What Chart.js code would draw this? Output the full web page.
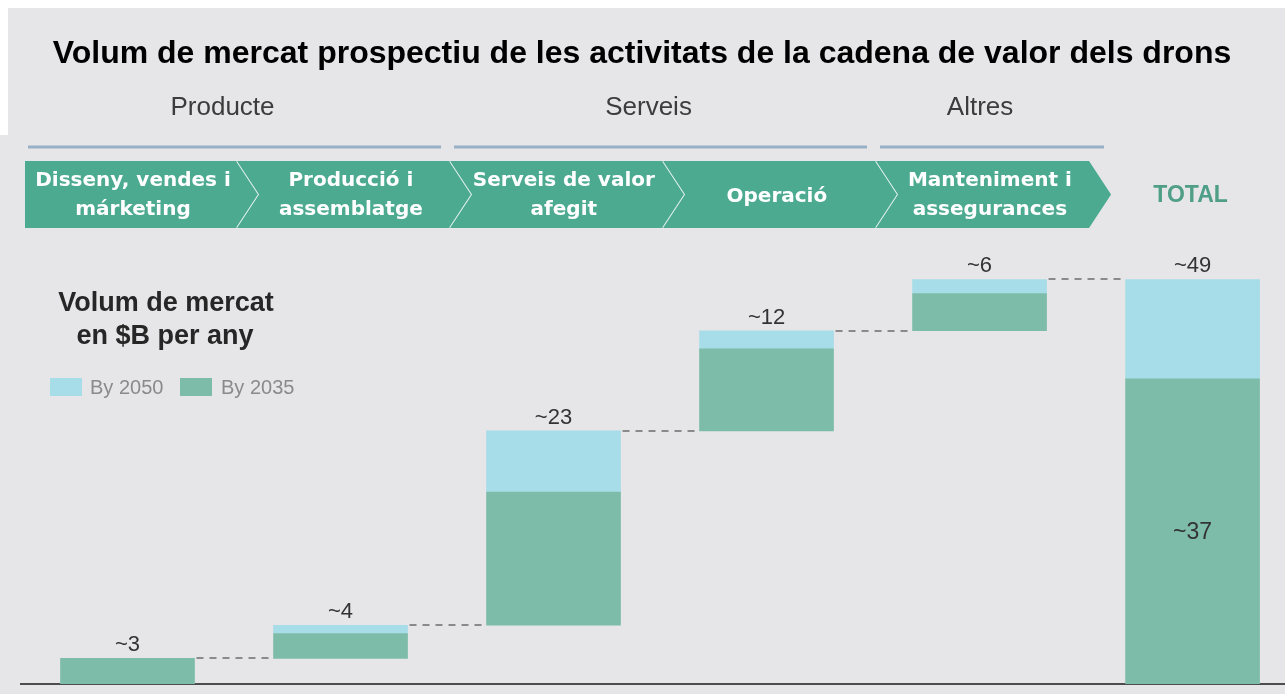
<!DOCTYPE html>
<html lang="ca">
<head>
<meta charset="UTF-8">
<title>Volum de mercat prospectiu - drons</title>
<script src="https://cdn.jsdelivr.net/npm/chart.js@4.4.1/dist/chart.umd.min.js"></script>
<style>
    * { margin: 0; padding: 0; box-sizing: border-box; }
    body { background: #fff; width: 1285px; height: 694px; overflow: hidden; }
    #wrap { position: relative; width: 1285px; height: 694px; }
</style>
</head>
<body>
<div id="wrap"><canvas id="chart" width="1285" height="694"></canvas></div>
<script>
// --- data ---
const titleText = 'Volum de mercat prospectiu de les activitats de la cadena de valor dels drons';
const categories = ['Disseny, vendes i márketing', 'Producció i assemblatge', 'Serveis de valor afegit', 'Operació', 'Manteniment i assegurances', 'TOTAL'];
const chevronLines = [['Disseny, vendes i', 'márketing'], ['Producció i', 'assemblatge'], ['Serveis de valor', 'afegit'], ['Operació'], ['Manteniment i', 'assegurances']];
const groupNames = ['Producte', 'Serveis', 'Altres'];
const groupFirst = [0, 2, 4];
const groupLast = [1, 3, 4];
const by2035 = [3.1, 3.0, 16.1, 9.9, 4.5, 36.9];   // $B per year
const by2050 = [0, 1.0, 7.4, 2.2, 1.7, 12.0];      // extra on top of 2035
const valueLabels = ['~3', '~4', '~23', '~12', '~6', '~49'];
const total2035Label = '~37';
const axisTitle = ['Volum de mercat', 'en $B per any'];
const seriesNames = ['By 2050', 'By 2035'];

const GREEN = '#7dbca8';
const BLUE = '#a7dce9';
const CHEVRON = '#4caa91';
const BG = '#e6e6e8';
const SANS = "'Liberation Sans', Arial, sans-serif";
const DEJAVU = "'DejaVu Sans', sans-serif";

// waterfall bases: each step starts where the previous one ended, total starts at 0
const lastIdx = categories.length - 1;
const bases = [];
let run = 0;
categories.forEach((c, i) => {
    bases.push(i === lastIdx ? 0 : run);
    run += by2035[i] + by2050[i];
});

const greenData = categories.map((c, i) => ({ x: i, y: [bases[i], bases[i] + by2035[i]] }));
const blueData = categories.map((c, i) => ({ x: i, y: [bases[i] + by2035[i], bases[i] + by2035[i] + by2050[i]] }));

const decor = {
    id: 'decor',
    beforeDraw(chart) {
        const ctx = chart.ctx;
        ctx.save();
        ctx.fillStyle = '#ffffff';
        ctx.fillRect(0, 0, chart.width, chart.height);
        ctx.fillStyle = BG;
        ctx.fillRect(8, 8, chart.width - 8, chart.height - 8);
        ctx.fillRect(0, 135, 8, chart.height - 135);
        ctx.restore();
    },
    afterDatasetsDraw(chart) {
        const ctx = chart.ctx;
        const ys = chart.scales.y;
        const bars = chart.getDatasetMeta(0).data;
        ctx.save();

        // dashed connectors between steps
        ctx.strokeStyle = '#8a8a8a';
        ctx.lineWidth = 2;
        ctx.setLineDash([7, 6]);
        for (let i = 0; i < lastIdx; i++) {
            const y = Math.round(ys.getPixelForValue(bases[i] + by2035[i] + by2050[i]));
            const xa = bars[i].x + bars[i].width / 2;
            const xb = bars[i + 1].x - bars[i + 1].width / 2;
            ctx.beginPath();
            ctx.moveTo(xa + 2, y);
            ctx.lineTo(xb, y);
            ctx.stroke();
        }
        ctx.setLineDash([]);

        // value labels above each bar
        ctx.fillStyle = '#333333';
        ctx.textAlign = 'center';
        ctx.textBaseline = 'alphabetic';
        ctx.font = '22px ' + SANS;
        categories.forEach((c, i) => {
            const top = ys.getPixelForValue(bases[i] + by2035[i] + by2050[i]);
            ctx.fillText(valueLabels[i], bars[i].x, top - 7);
        });
        // 2035 figure inside the total bar
        const g0 = ys.getPixelForValue(bases[lastIdx]);
        const g1 = ys.getPixelForValue(bases[lastIdx] + by2035[lastIdx]);
        ctx.font = '23px ' + SANS;
        ctx.fillText(total2035Label, bars[lastIdx].x, (g0 + g1) / 2 + 8);
        ctx.restore();
    },
    afterDraw(chart) {
        const ctx = chart.ctx;
        const xs = chart.scales.x;
        const b = k => xs.getPixelForValue(k - 0.5);
        ctx.save();

        // title
        ctx.fillStyle = '#000000';
        ctx.textAlign = 'center';
        ctx.textBaseline = 'alphabetic';
        ctx.font = 'bold 32px ' + SANS;
        ctx.fillText(titleText, 642, 63);

        // group headers with rule underneath
        groupNames.forEach((name, g) => {
            const x0 = b(groupFirst[g]) + 7;
            const isLast = g === groupNames.length - 1;
            const x1 = isLast ? b(groupLast[g] + 1) + 18 : b(groupLast[g] + 1) - 6;
            ctx.strokeStyle = '#98b0c6';
            ctx.lineWidth = 3;
            ctx.beginPath();
            ctx.moveTo(x0, 147);
            ctx.lineTo(x1, 147);
            ctx.stroke();
            ctx.fillStyle = '#3c3c3c';
            ctx.font = '26px ' + SANS;
            ctx.fillText(name, (x0 + x1) / 2 - 12, 115);
        });

        // chevrons of the value chain
        const top = 161, bot = 228, mid = (top + bot) / 2, d = 22;
        chevronLines.forEach((lines, i) => {
            const x0 = b(i) + (i === 0 ? 4 : 3);
            const x1 = b(i + 1) + 3;
            ctx.fillStyle = CHEVRON;
            ctx.beginPath();
            ctx.moveTo(x0, top);
            ctx.lineTo(x1, top);
            ctx.lineTo(x1 + d, mid);
            ctx.lineTo(x1, bot);
            ctx.lineTo(x0, bot);
            if (i > 0) ctx.lineTo(x0 + d, mid);
            ctx.closePath();
            ctx.fill();
            if (i < chevronLines.length - 1) {
                ctx.strokeStyle = 'rgba(255,255,255,0.85)';
                ctx.lineWidth = 2;
                ctx.beginPath();
                ctx.moveTo(x1, top);
                ctx.lineTo(x1 + d, mid);
                ctx.lineTo(x1, bot);
                ctx.stroke();
            }
            const cx = (x0 + x1) / 2 + (i === 0 ? 2 : d / 3);
            ctx.fillStyle = '#ffffff';
            ctx.font = 'bold 20px ' + DEJAVU;
            if (lines.length === 1) {
                ctx.fillText(lines[0], cx, mid + 7);
            } else {
                ctx.fillText(lines[0], cx, 186);
                ctx.fillText(lines[1], cx, 215);
            }
        });

        // TOTAL heading
        ctx.fillStyle = '#4f9e88';
        ctx.font = 'bold 23px ' + SANS;
        ctx.fillText(categories[lastIdx], xs.getPixelForValue(lastIdx) - 2, 202);

        // unit title
        ctx.fillStyle = '#262626';
        ctx.font = 'bold 27px ' + SANS;
        ctx.fillText(axisTitle[0], 166, 311);
        ctx.fillText(axisTitle[1], 165, 344);

        // legend
        ctx.textAlign = 'left';
        ctx.font = '20px ' + SANS;
        ctx.fillStyle = BLUE;
        ctx.fillRect(50, 378, 32, 18);
        ctx.fillStyle = '#8a8a8a';
        ctx.fillText(seriesNames[0], 90, 394);
        ctx.fillStyle = GREEN;
        ctx.fillRect(180, 378, 32, 18);
        ctx.fillStyle = '#8a8a8a';
        ctx.fillText(seriesNames[1], 221, 394);

        ctx.restore();
    }
};

const ctx = document.getElementById('chart').getContext('2d');
const chart = new Chart(ctx, {
    type: 'bar',
    data: {
        datasets: [
            { label: seriesNames[1], data: greenData, backgroundColor: GREEN, borderWidth: 0, barThickness: 134 },
            { label: seriesNames[0], data: blueData, backgroundColor: BLUE, borderWidth: 0, barThickness: 134 }
        ]
    },
    options: {
        responsive: false,
        animation: false,
        layout: { padding: { top: 229, left: 21, right: 0, bottom: 10 } },
        plugins: {
            legend: { display: false },
            tooltip: { enabled: false },
            title: { display: false }
        },
        scales: {
            x: {
                type: 'linear',
                min: -0.5,
                max: 5.434,
                offset: false,
                stacked: true,
                z: 1,
                grid: { display: false, drawTicks: false, offset: false },
                ticks: { display: false },
                border: { display: true, color: '#4d4d4d', width: 2 }
            },
            y: {
                display: false,
                min: 0,
                max: 55
            }
        }
    },
    plugins: [decor]
});
</script>
</body>
</html>
